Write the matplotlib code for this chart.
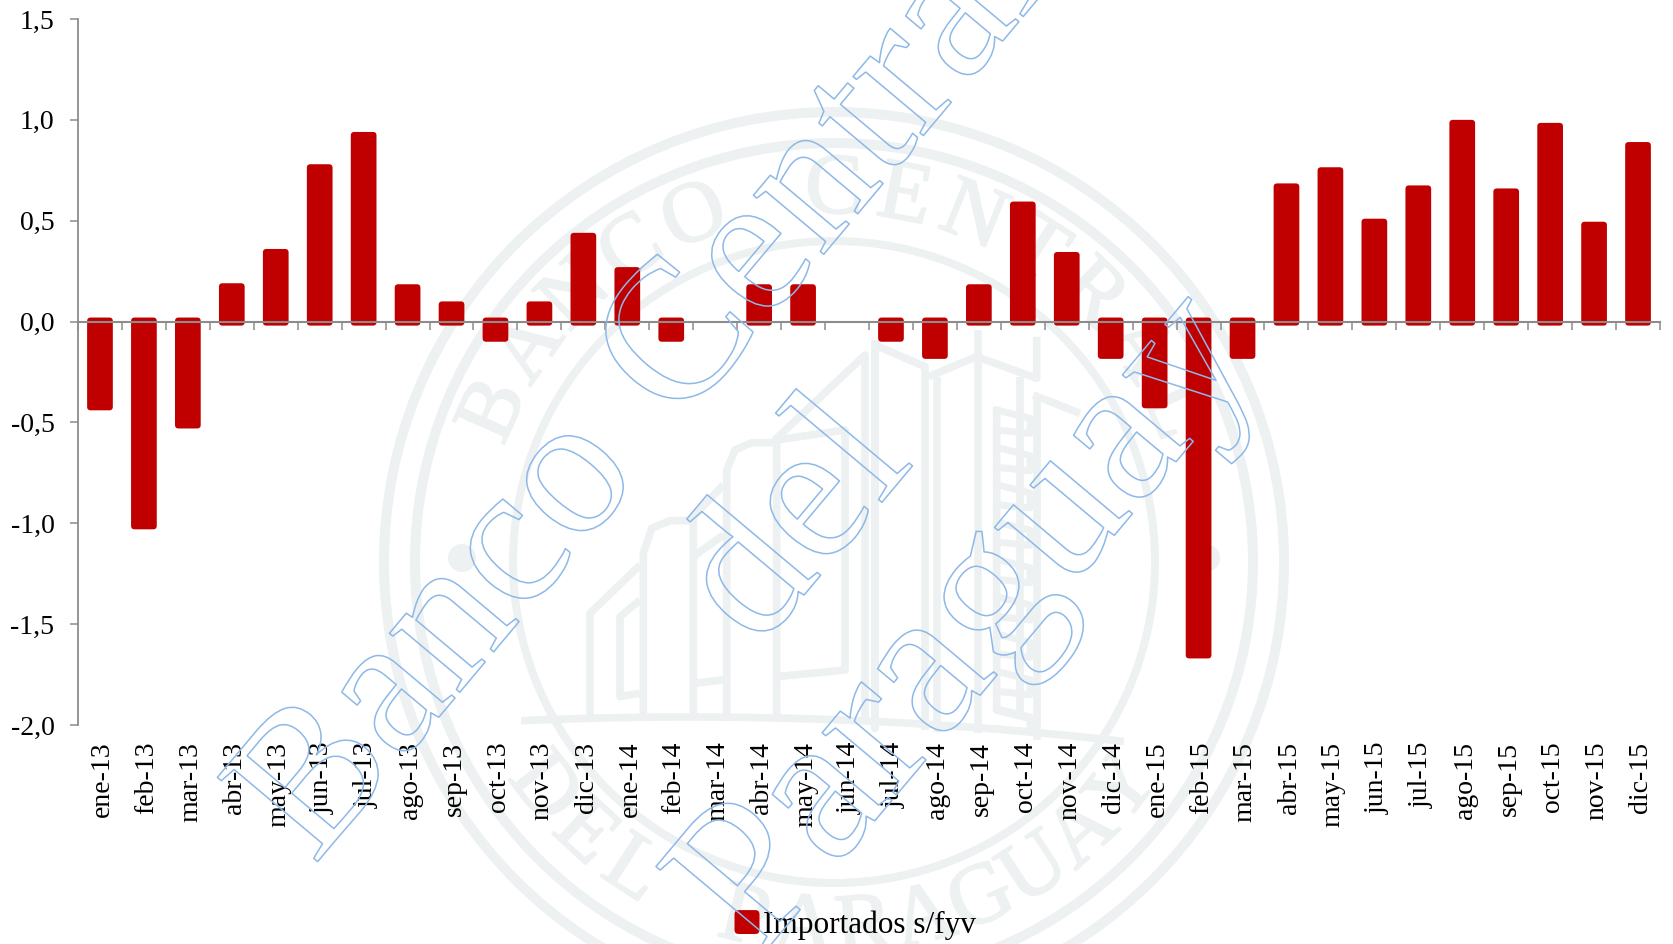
import numpy as np
import matplotlib
matplotlib.use("Agg")
import matplotlib.pyplot as plt
import matplotlib.patheffects as pe
from matplotlib.patches import FancyBboxPatch, Circle, Patch
from matplotlib.legend_handler import HandlerPatch
from matplotlib.transforms import ScaledTranslation

plt.rcParams["font.family"] = ["Liberation Serif", "DejaVu Serif"]

# Data
months = ["ene", "feb", "mar", "abr", "may", "jun", "jul", "ago", "sep", "oct", "nov", "dic"]
labels = [m + "-" + y for y in ["13", "14", "15"] for m in months]
values = [-0.44, -1.03, -0.53, 0.19, 0.36, 0.78, 0.94, 0.185, 0.10, -0.10, 0.10, 0.44,
          0.27, -0.10, 0.0, 0.185, 0.185, 0.0, -0.10, -0.185, 0.185, 0.595, 0.345, -0.185,
          -0.43, -1.67, -0.185, 0.685, 0.765, 0.51, 0.675, 1.0, 0.66, 0.985, 0.495, 0.89]
yticks = [-2.0, -1.5, -1.0, -0.5, 0.0, 0.5, 1.0, 1.5]
legend_label = "Importados s/fyv"

W, H = 1673, 944
RED = "#c00000"
AXIS = "#8c8c8c"
SEAL = "#edf1f1"
BLUE = "#8db8e8"

fig = plt.figure(figsize=(W / 100, H / 100), dpi=100, facecolor="white")

# ----------------------------
# Seal behind the chart (pixel coordinates)
# ----------------------------
bg = fig.add_axes([0, 0, 1, 1], zorder=0)
bg.set_xlim(0, W)
bg.set_ylim(H, 0)
bg.axis("off")

cx, cy = 834, 562
for r, w in [(450, 10), (419, 10), (321, 8)]:
    bg.add_patch(Circle((cx, cy), r, fill=False, ec=SEAL, lw=w * 0.72))
for dx in [-372, 372]:
    bg.add_patch(Circle((cx + dx, 558), 14, fc=SEAL, ec="none"))


def arc_text(text, a0, a1, radius, bottom=False):
    for ch, a in zip(text, np.linspace(a0, a1, len(text))):
        t = np.radians(a)
        if bottom:
            x, y = cx + radius * np.sin(t), cy + radius * np.cos(t)
            rot = a
        else:
            x, y = cx + radius * np.sin(t), cy - radius * np.cos(t)
            rot = -a
        bg.text(x, y, ch, color=SEAL, fontsize=62, rotation=rot, ha="center", va="center",
                rotation_mode="anchor",
                path_effects=[pe.withStroke(linewidth=1.5, foreground=SEAL)])


arc_text("BANCO CENTRAL", -66, 66, 370)
arc_text("DEL PARAGUAY", -52, 52, 370, bottom=True)

# building outline
building = [
    [(90, 1160), (90, 850), (240, 705)],
    [(400, 560), (490, 465)],
    [(650, 325), (915, 75), (915, 1170)],
    [(250, 1160), (250, 670), (275, 595), (330, 572), (390, 572), (400, 560), (400, 1160)],
    [(500, 1160), (500, 420), (525, 360), (575, 338), (640, 338), (650, 325), (650, 1170)],
    [(240, 810), (180, 860), (180, 1100), (240, 1090)],
    [(400, 680), (490, 615)],
    [(400, 1060), (490, 1050)],
    [(650, 330), (855, 300), (855, 1020), (650, 1040)],
    [(945, 30), (945, 1195), (945, 45), (1095, 110), (1095, 1200)],
    [(1105, 140), (1250, 80), (1430, 145), (1430, 20)],
    [(1130, 140), (1130, 1205)],
    [(1255, 0), (1255, 1210)],
    [(1380, 140), (1380, 1150)],
    [(1420, 195), (1560, 250)],
    [(1430, 200), (1430, 1230)],
    [(1310, 230), (1310, 1140), (1410, 1165)],
]
for line in building:
    xs = [560 + p[0] / 3 for p in line]
    ys = [330 + p[1] / 3 for p in line]
    bg.plot(xs, ys, color=SEAL, lw=5.5, solid_joinstyle="round", solid_capstyle="butt")
# notches on the right tower
for ny in range(240, 1140, 112):
    bg.plot([560 + 1310 / 3, 560 + 1410 / 3, 560 + 1410 / 3, 560 + 1310 / 3],
            [330 + ny / 3, 330 + (ny + 25) / 3, 330 + (ny + 70) / 3, 330 + (ny + 60) / 3],
            color=SEAL, lw=5, solid_joinstyle="round")
# base arc of the building
bx = np.linspace(525, 1120, 40)
bg.plot(bx, 717 + ((bx - 690) / 430) ** 2 * 24, color=SEAL, lw=5.5)
# lower arc under the labels
ang = np.radians(np.linspace(-58, 58, 60))
bg.plot(cx + 321 * np.sin(ang), cy + 321 * np.cos(ang), color=SEAL, lw=5.5)

# ----------------------------
# Chart
# ----------------------------
ax = fig.add_axes([78 / W, 1 - 725 / H, (1660 - 78) / W, (725 - 19) / H], zorder=1)
ax.patch.set_alpha(0)
ax.set_xlim(-0.5, len(values) - 0.5)
ax.set_ylim(-2.0, 1.5)

x_unit = (1660 - 78) / len(values)
y_unit = (725 - 19) / 3.5
bar_w = 0.585
over = 0.02
for i, v in enumerate(values):
    if v == 0:
        continue
    low, high = (-over, v) if v > 0 else (v, over)
    ax.add_patch(FancyBboxPatch((i - bar_w / 2, low), bar_w, high - low,
                                boxstyle="round,pad=0,rounding_size=0.08",
                                mutation_aspect=x_unit / y_unit,
                                fc=RED, ec="none", zorder=1))

for s in ["top", "right", "bottom"]:
    ax.spines[s].set_visible(False)
ax.spines["left"].set_color(AXIS)
ax.spines["left"].set_linewidth(1.3)

ax.set_yticks(yticks)
ax.set_yticklabels([f"{t:.1f}".replace(".", ",") for t in yticks], fontsize=20)
ax.tick_params(axis="y", length=6, width=1.1, color=AXIS, pad=11)

ax.set_xticks(range(len(labels)))
ax.set_xticklabels(labels, rotation=90, fontsize=20)
ax.tick_params(axis="x", length=0, pad=12)
shift = ScaledTranslation(2 / 72, 0, fig.dpi_scale_trans)
for lbl in ax.get_xticklabels():
    lbl.set_transform(lbl.get_transform() + shift)

# zero line with the tick marks between the months
zero = ax.secondary_xaxis(2.0 / 3.5)
zero.set_zorder(3)
zero.xaxis.set_ticks_position("bottom")
zero.set_xticks(np.arange(len(values) + 1) - 0.5)
zero.set_xticklabels([])
zero.tick_params(axis="x", length=6, width=1.1, color=AXIS, direction="out")
zero.spines["top"].set_visible(False)
zero.spines["bottom"].set_visible(True)
zero.spines["bottom"].set_color(AXIS)
zero.spines["bottom"].set_linewidth(1.5)


def rounded_handle(legend, orig_handle, xdescent, ydescent, width, height, fontsize):
    return FancyBboxPatch((-xdescent, -ydescent), width, height,
                          boxstyle="round,pad=0,rounding_size=3")


leg = fig.legend(handles=[Patch(fc=RED, ec="none", label=legend_label)],
                 loc="center", bbox_to_anchor=(855 / W, 1 - 925 / H), frameon=False,
                 fontsize=22.5, handlelength=0.8, handleheight=0.8, handletextpad=0.1,
                 borderpad=0, handler_map={Patch: HandlerPatch(patch_func=rounded_handle)})
leg.set_zorder(2)

# ----------------------------
# Outlined diagonal watermark
# ----------------------------
outline = [pe.Stroke(linewidth=1.1, foreground=BLUE)]
for txt, px, py, size in [("Banco", 314, 866, 144), ("Central", 678, 428, 144),
                          ("del", 758, 650, 144), ("Paraguay", 758, 960, 152)]:
    fig.text(px / W, 1 - py / H, txt, fontsize=size, color=(1, 1, 1, 0), rotation=50,
             rotation_mode="anchor", ha="left", va="baseline", path_effects=outline, zorder=10)

fig.savefig("out.png", dpi=100)
